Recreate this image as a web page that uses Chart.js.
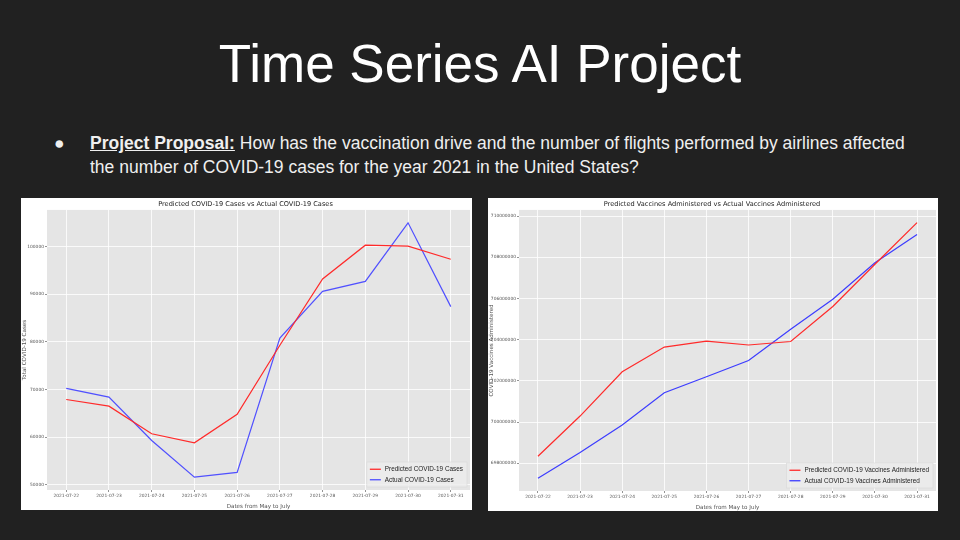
<!DOCTYPE html>
<html>
<head>
<meta charset="utf-8">
<script src="https://cdn.jsdelivr.net/npm/chart.js@4.4.1/dist/chart.umd.min.js"></script>
<style>
  html, body { margin: 0; padding: 0; }
  body { width: 960px; height: 540px; background: #212121; position: relative; overflow: hidden;
         font-family: "Liberation Sans", Arial, sans-serif; color: #efefef; }
  h1 { position: absolute; left: 0; top: 33px; width: 960px; margin: 0; text-align: center;
       font-weight: normal; font-size: 53px; line-height: 62px; color: #fff; }
  .bullet { position: absolute; left: 54px; top: 131px; width: 880px; font-size: 17.5px; line-height: 24px; }
  .bullet .dot { position: absolute; left: 0; top: 0; }
  .bullet .txt { position: absolute; left: 36px; top: 0; width: 835px; }
  .bullet b { text-decoration: underline; }
  .panel { position: absolute; background: #fff; }
</style>
</head>
<body>
<h1>Time Series AI Project</h1>
<div class="bullet"><span class="dot">●</span><div class="txt"><b>Project Proposal:</b> How has the vaccination drive and the number of flights performed by airlines affected the number of COVID-19 cases for the year 2021 in the United States?</div></div>
<div class="panel" style="left:21px; top:198px; width:451px; height:312px;"><canvas id="casesChart"></canvas></div>
<div class="panel" style="left:488px; top:198px; width:450px; height:313px;"><canvas id="vaccChart"></canvas></div>
<script>
const dates = ["2021-07-22", "2021-07-23", "2021-07-24", "2021-07-25", "2021-07-26",
               "2021-07-27", "2021-07-28", "2021-07-29", "2021-07-30", "2021-07-31"];

const predictedCases = [67900, 66500, 60700, 58800, 64800, 79300, 93200, 100300, 100100, 97350];
const actualCases = [70250, 68400, 59300, 51600, 52600, 80800, 90600, 92700, 105000, 87400];
const caseTicks = [50000, 60000, 70000, 80000, 90000, 100000];

const predictedVaccines = [698340000, 700290000, 702440000, 703640000, 703930000,
                           703740000, 703910000, 705610000, 707660000, 709680000];
const actualVaccines = [697270000, 698520000, 699860000, 701420000, 702200000,
                        702990000, 704510000, 705960000, 707730000, 709110000];
const vaccineTicks = [698000000, 700000000, 702000000, 704000000, 706000000, 708000000, 710000000];

const plotBg = {
    id: 'plotBg',
    beforeDraw(chart) {
        const { ctx, chartArea: a } = chart;
        ctx.save();
        ctx.fillStyle = '#e5e5e5';
        ctx.fillRect(a.left, a.top, a.width, a.height);
        ctx.restore();
    }
};

// legend in the lower right corner of the plot, like matplotlib loc='lower right'
const cornerLegend = {
    id: 'cornerLegend',
    afterDatasetsDraw(chart, args, opts) {
        const { ctx, chartArea: a } = chart;
        const sets = chart.data.datasets;
        ctx.save();
        ctx.font = '6.4px "Liberation Sans"';
        const textW = Math.max(...sets.map(ds => ctx.measureText(ds.label).width));
        const w = textW + 22, rowH = 10.5, h = sets.length * rowH + 4;
        const x = a.right - w - 3, y = a.bottom - h - 3;
        ctx.fillStyle = 'rgba(236,236,236,0.85)';
        ctx.strokeStyle = '#d8d8d8';
        ctx.lineWidth = 0.6;
        ctx.fillRect(x, y, w, h);
        ctx.strokeRect(x, y, w, h);
        ctx.textBaseline = 'middle';
        sets.forEach((ds, i) => {
            const cy = y + 2 + rowH * (i + 0.5);
            ctx.strokeStyle = ds.borderColor;
            ctx.lineWidth = 1.3;
            ctx.beginPath();
            ctx.moveTo(x + 3, cy);
            ctx.lineTo(x + 14, cy);
            ctx.stroke();
            ctx.fillStyle = '#222';
            ctx.fillText(ds.label, x + 18, cy);
        });
        ctx.restore();
    }
};

function makeChart(id, cfg) {
    const tickFont = { family: 'DejaVu Sans', size: 4.4 };
    const axisFont = { family: 'DejaVu Sans', size: 5.6 };
    return new Chart(document.getElementById(id), {
        type: 'line',
        data: {
            datasets: [
                {
                    label: cfg.labels[0],
                    data: cfg.predicted.map((v, i) => ({ x: i, y: v })),
                    borderColor: '#ff2a2a',
                    borderWidth: 1.2,
                    pointRadius: 0,
                    tension: 0
                },
                {
                    label: cfg.labels[1],
                    data: cfg.actual.map((v, i) => ({ x: i, y: v })),
                    borderColor: cfg.actualColor,
                    borderWidth: 1.2,
                    pointRadius: 0,
                    tension: 0
                }
            ]
        },
        plugins: [plotBg, cornerLegend],
        options: {
            responsive: true,
            maintainAspectRatio: false,
            animation: false,
            layout: { padding: { left: 0, right: 2, top: 0, bottom: 0 } },
            scales: {
                x: {
                    type: 'linear',
                    min: -0.45,
                    max: dates.length - 1 + 0.45,
                    afterBuildTicks: s => { s.ticks = dates.map((d, i) => ({ value: i })); },
                    afterFit: s => { s.height = 20; },
                    ticks: {
                        callback: v => dates[v],
                        autoSkip: false, maxRotation: 0,
                        color: '#555', font: tickFont, padding: 1
                    },
                    grid: { color: '#ffffff', lineWidth: 0.8, tickColor: '#777', tickLength: 2 },
                    border: { display: false },
                    title: { display: true, text: 'Dates from May to July', color: '#555', font: axisFont, padding: 0 }
                },
                y: {
                    min: cfg.yMin,
                    max: cfg.yMax,
                    afterBuildTicks: s => { s.ticks = cfg.yTicks.map(v => ({ value: v })); },
                    afterFit: s => { s.width = cfg.yWidth; },
                    ticks: { callback: v => String(v), color: '#555', font: tickFont, padding: 1 },
                    grid: { color: '#ffffff', lineWidth: 0.8, tickColor: '#777', tickLength: 2 },
                    border: { display: false },
                    title: { display: true, text: cfg.yTitle, color: '#555', font: axisFont, padding: 0 }
                }
            },
            plugins: {
                legend: { display: false },
                tooltip: { enabled: false },
                title: {
                    display: true, text: cfg.title, color: '#222',
                    font: { family: 'DejaVu Sans', size: 6.6, weight: 'normal' },
                    padding: { top: 2, bottom: 2 }
                }
            }
        }
    });
}

makeChart('casesChart', {
    title: 'Predicted COVID-19 Cases vs Actual COVID-19 Cases',
    labels: ['Predicted COVID-19 Cases', 'Actual COVID-19 Cases'],
    predicted: predictedCases,
    actual: actualCases,
    actualColor: '#5050ff',
    yTicks: caseTicks,
    yMin: 48900, yMax: 107700,
    yTitle: 'Total COVID-19 Cases',
    yWidth: 26
});

makeChart('vaccChart', {
    title: 'Predicted Vaccines Administered vs Actual Vaccines Administered',
    labels: ['Predicted COVID-19 Vaccines Administered', 'Actual COVID-19 Vaccines Administered'],
    predicted: predictedVaccines,
    actual: actualVaccines,
    actualColor: '#3c3cff',
    yTicks: vaccineTicks,
    yMin: 696650000, yMax: 710300000,
    yTitle: 'COVID-19 Vaccines Administered',
    yWidth: 31
});
</script>
</body>
</html>
